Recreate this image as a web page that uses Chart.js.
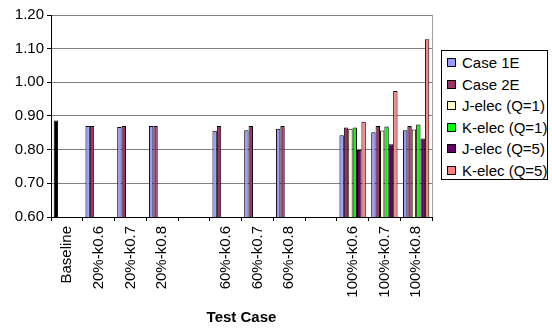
<!DOCTYPE html>
<html>
<head>
<meta charset="utf-8">
<script src="https://cdn.jsdelivr.net/npm/chart.js@4.4.1/dist/chart.umd.min.js"></script>
<style>
  html, body { margin: 0; padding: 0; background: #fff; }
  #wrap { position: relative; width: 552px; height: 330px; }
  #legend {
    position: absolute; left: 441px; top: 50px; width: 105px; height: 128px;
    border: 1px solid #000; background: #fff;
    font: 15px "Liberation Sans", Arial, sans-serif; color: #000;
  }
  #legend div { position: absolute; left: 5px; height: 18px; line-height: 18px; white-space: nowrap; }
  #legend span {
    display: inline-block; width: 7px; height: 7px; border: 1px solid #000;
    margin-right: 6px; vertical-align: 1px;
  }
</style>
</head>
<body>
<div id="wrap">
  <canvas id="c" width="552" height="330"></canvas>
  <div id="legend"></div>
</div>
<script>
// -------------------- Data --------------------
const categories = ["Baseline", "20%-k0.6", "20%-k0.7", "20%-k0.8", "",
  "60%-k0.6", "60%-k0.7", "60%-k0.8", "",
  "100%-k0.6", "100%-k0.7", "100%-k0.8"];

const seriesNames = ["Case 1E", "Case 2E", "J-elec (Q=1)", "K-elec (Q=1)", "J-elec (Q=5)", "K-elec (Q=5)"];
const seriesColors = ["#9999FF", "#993366", "#FFFFCC", "#00FF00", "#660066", "#FF8080"];
const baselineColor = "#000000";

// baseline value sits in the Case 1E series (black bar)
const case1E = [0.887, 0.870, 0.867, 0.870, null, 0.856, 0.858, 0.862, null, 0.843, 0.852, 0.858];
const case2E = [null, 0.870, 0.870, 0.870, null, 0.870, 0.870, 0.870, null, 0.866, 0.870, 0.870];
const jElecQ1 = [null, null, null, null, null, null, null, null, null, 0.862, 0.857, 0.860];
const kElecQ1 = [null, null, null, null, null, null, null, null, null, 0.866, 0.869, 0.875];
const jElecQ5 = [null, null, null, null, null, null, null, null, null, 0.799, 0.816, 0.833];
const kElecQ5 = [null, null, null, null, null, null, null, null, null, 0.883, 0.974, 1.128];

const yTicks = [0.6, 0.7, 0.8, 0.9, 1.0, 1.1, 1.2];

const allSeries = [case1E, case2E, jElecQ1, kElecQ1, jElecQ5, kElecQ5];
const FONT = "'Liberation Sans', Arial, sans-serif";

// -------------------- Datasets --------------------
const datasets = allSeries.map((values, i) => ({
  label: seriesNames[i],
  data: values,
  backgroundColor: (ctx) => (i === 0 && ctx.dataIndex === 0) ? baselineColor : seriesColors[i],
  borderColor: "#000",
  borderWidth: 1,
  categoryPercentage: 0.83,
  barPercentage: 1.0
}));

// right edge of the plot area
const plotBorder = {
  id: "plotBorder",
  beforeDatasetsDraw(chart) {
    const { ctx, chartArea: a } = chart;
    ctx.save();
    ctx.strokeStyle = "#a0a0a0";
    ctx.lineWidth = 1;
    ctx.beginPath();
    ctx.moveTo(Math.round(a.right) + 0.5, a.top);
    ctx.lineTo(Math.round(a.right) + 0.5, a.bottom);
    ctx.stroke();
    ctx.restore();
  }
};

new Chart(document.getElementById("c"), {
  type: "bar",
  data: { labels: categories, datasets },
  options: {
    responsive: false,
    animation: false,
    layout: { padding: { top: 15, right: 120, left: 0, bottom: 0 } },
    plugins: { legend: { display: false }, tooltip: { enabled: false } },
    scales: {
      x: {
        grid: { display: true, drawOnChartArea: false, offset: true, color: "#000", tickLength: 4 },
        border: { color: "#000" },
        ticks: {
          minRotation: 90, maxRotation: 90, autoSkip: false, padding: 5,
          color: "#000", font: { family: FONT, size: 15 }
        },
        title: {
          display: true, text: "Test Case", color: "#000",
          font: { family: FONT, size: 15, weight: "bold" },
          padding: { top: 0, bottom: 3 }
        },
        afterFit: (s) => { s.height = 113; }
      },
      y: {
        min: 0.6, max: 1.2,
        afterBuildTicks: (s) => { s.ticks = yTicks.map(v => ({ value: v })); },
        grid: { color: "#808080", tickColor: "#000", tickLength: 4 },
        border: { color: "#000" },
        ticks: {
          padding: 3, color: "#000",
          font: { family: FONT, size: 15 },
          callback: (v) => Number(v).toFixed(2)
        },
        afterFit: (s) => { s.width = 51; }
      }
    }
  },
  plugins: [plotBorder]
});

// -------------------- Legend --------------------
const legend = document.getElementById("legend");
seriesNames.forEach((name, i) => {
  const row = document.createElement("div");
  row.style.top = (3 + i * 21.5) + "px";
  row.innerHTML = `<span style="background:${seriesColors[i]}"></span>${name}`;
  legend.appendChild(row);
});
</script>
</body>
</html>
